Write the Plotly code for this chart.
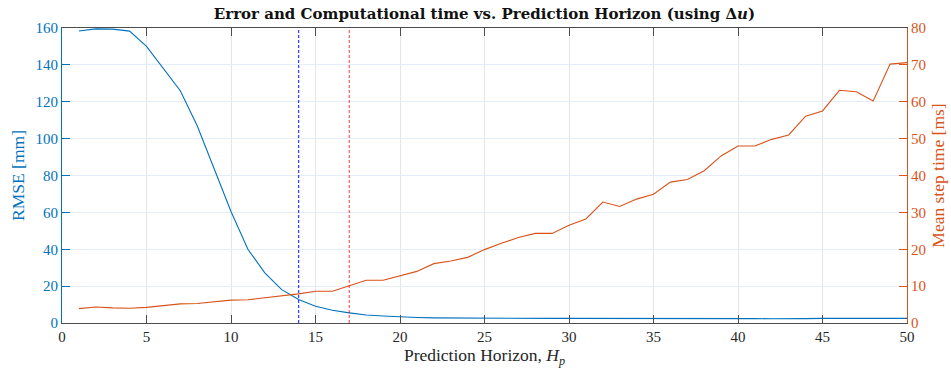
import plotly.graph_objects as go

horizon = list(range(1, 51))
rmse_mm = [158.4, 159.5, 159.4, 158.3, 150.0, 138.0, 126.0, 107.0, 84.0, 60.5,
           40.0, 27.2, 18.1, 12.7, 9.1, 6.9, 5.5, 4.3, 3.8, 3.3,
           3.0, 2.8, 2.7, 2.6, 2.6, 2.6, 2.5, 2.5, 2.5, 2.5,
           2.5, 2.6, 2.8, 2.6, 2.5, 2.5, 2.5, 2.5, 2.5, 2.5,
           2.4, 2.3, 2.2, 2.4, 2.5, 2.5, 2.5, 2.5, 2.5, 2.5]
step_ms = [3.9, 4.35, 4.1, 4.0, 4.25, 4.7, 5.2, 5.3, 5.8, 6.2,
           6.3, 6.8, 7.2, 7.9, 8.6, 8.6, 10.1, 11.6, 11.6, 12.8,
           14.0, 16.1, 16.8, 17.8, 19.9, 21.6, 23.2, 24.3, 24.3, 26.5,
           28.2, 32.8, 31.6, 33.6, 34.9, 38.2, 38.9, 41.3, 45.3, 48.0,
           48.0, 49.8, 51.0, 56.1, 57.5, 63.1, 62.7, 60.2, 70.2, 70.6]
marker_lines = [14, 17]
marker_colors = ["rgba(0,0,255,0.75)", "rgba(255,0,0,0.6)"]

blue = "#0072BD"
orange = "#D95319"
font = "Liberation Serif"

fig = go.Figure()
fig.add_trace(go.Scatter(x=horizon, y=rmse_mm, mode="lines",
                         line=dict(color=blue, width=1.1), yaxis="y"))
fig.add_trace(go.Scatter(x=horizon, y=step_ms, mode="lines",
                         line=dict(color=orange, width=1.1), yaxis="y2"))

for xv, col in zip(marker_lines, marker_colors):
    fig.add_vline(x=xv, line=dict(color=col, width=1.3, dash="3px,2px"))

fig.update_layout(
    width=951, height=369,
    margin=dict(l=62, r=44, t=28, b=46),
    paper_bgcolor="white", plot_bgcolor="white",
    showlegend=False,
    font=dict(family=font, size=15, color="#262626"),
    title=dict(text="<b>Error and Computational time vs. Prediction Horizon (using Δ<i>u</i>)</b>",
               x=0.5, xref="paper", xanchor="center", y=0.978, yanchor="top",
               font=dict(family="DejaVu Serif", size=15, color="#111")),
    xaxis=dict(range=[0, 50], tickmode="linear", tick0=0, dtick=5, automargin=False,
               showgrid=True, gridcolor="#e3e6ea", gridwidth=1,
               showline=True, linecolor="#4d4d4d", linewidth=1.2,
               mirror="ticks", ticks="inside", ticklen=8, tickcolor="#4d4d4d",
               zeroline=False, tickfont=dict(family=font, size=15, color="#262626"),
               title=dict(text="Prediction Horizon, <i>H</i><sub><i>p</i></sub>",
                          font=dict(family=font, size=17.5, color="#262626"), standoff=4)),
    yaxis=dict(range=[0, 160], tickmode="linear", tick0=0, dtick=20, automargin=False,
               showgrid=True, gridcolor="#e3eef8", gridwidth=1,
               showline=True, linecolor=blue, linewidth=1.2,
               ticks="inside", ticklen=8, tickcolor=blue, zeroline=False,
               tickfont=dict(family=font, size=15, color=blue),
               title=dict(text="RMSE [mm]", font=dict(family=font, size=17.5, color=blue), standoff=6)),
    yaxis2=dict(range=[0, 80], tickmode="linear", tick0=0, dtick=10, automargin=False,
                overlaying="y", side="right", showgrid=False,
                showline=True, linecolor=orange, linewidth=1.2,
                ticks="inside", ticklen=8, tickcolor=orange, zeroline=False,
                tickfont=dict(family=font, size=15, color=orange),
                title=dict(text="Mean step time [ms]", font=dict(family=font, size=17.5, color=orange), standoff=6)),
)

fig.write_html("out.html")
